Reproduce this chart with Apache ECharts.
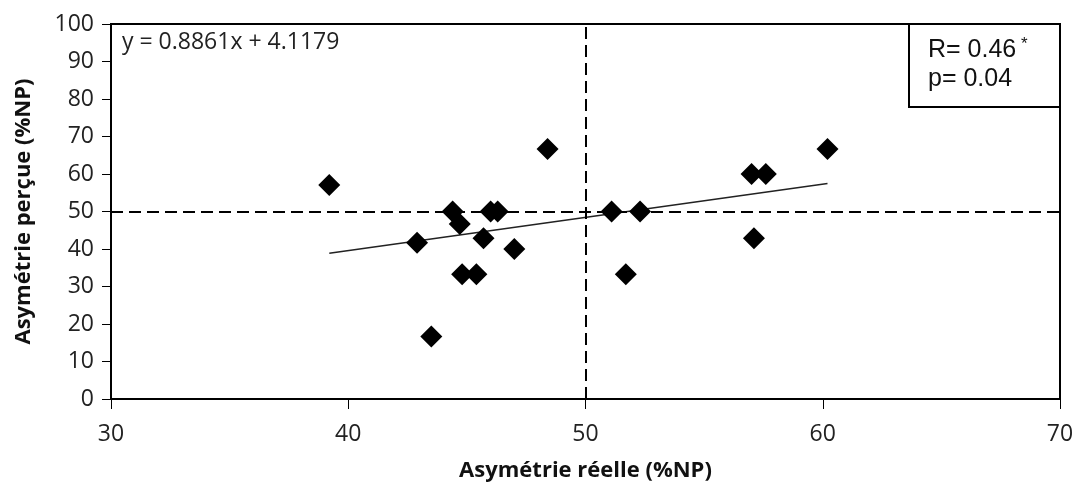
<!DOCTYPE html>
<html>
<head>
<meta charset="utf-8">
<style>
  html, body { margin: 0; padding: 0; background: #fff; }
  #chart { width: 1077px; height: 487px; }
</style>
<script src="https://cdn.jsdelivr.net/npm/echarts@6/dist/echarts.min.js"></script>
</head>
<body>
<div id="chart"></div>
<script>
const X_REAL = [39.2, 42.9, 43.5, 44.4, 44.7, 44.8, 45.4, 45.7, 46.0, 46.3, 47.0, 48.4, 51.1, 51.7, 52.3, 57.0, 57.1, 57.6, 60.2];
const Y_PERCU = [57.1, 41.7, 16.7, 50.0, 46.7, 33.3, 33.3, 42.9, 50.0, 50.0, 40.0, 66.7, 50.0, 33.3, 50.0, 60.0, 42.9, 60.0, 66.7];
const SLOPE = 0.8861;
const INTERCEPT = 4.1179;
const X_TICKS = [30, 40, 50, 60, 70];
const Y_TICKS = [0, 10, 20, 30, 40, 50, 60, 70, 80, 90, 100];
const REF_X = 50;
const REF_Y = 50;

const FONT = "'Open Sans', 'Noto Sans', sans-serif";
const BOX_FONT = "'Liberation Sans', Arial, sans-serif";

const points = X_REAL.map((x, i) => [x, Y_PERCU[i]]);
const xMin = Math.min(...X_REAL);
const xMax = Math.max(...X_REAL);
const trend = [xMin, xMax].map((x) => [x, SLOPE * x + INTERCEPT]);

const chart = echarts.init(document.getElementById("chart"));

const axisLine = { show: true, lineStyle: { color: "#000", width: 2 } };

chart.setOption({
  animation: false,
  grid: { left: 111, right: 17, top: 24, bottom: 87, show: true, borderColor: "#000", borderWidth: 2 },
  xAxis: {
    type: "value",
    min: X_TICKS[0],
    max: X_TICKS[X_TICKS.length - 1],
    interval: 10,
    name: "Asymétrie réelle (%NP)",
    nameLocation: "middle",
    nameGap: 61,
    nameTextStyle: { fontFamily: FONT, fontSize: 22, fontWeight: "bold", color: "#111" },
    axisLine,
    axisTick: { show: true, length: 10, lineStyle: { color: "#000", width: 1 } },
    axisLabel: { fontFamily: FONT, fontSize: 23, color: "#222", margin: 24 },
    splitLine: { show: false }
  },
  yAxis: {
    type: "value",
    min: Y_TICKS[0],
    max: Y_TICKS[Y_TICKS.length - 1],
    interval: 10,
    name: "Asymétrie perçue (%NP)",
    nameLocation: "middle",
    nameGap: 76,
    nameTextStyle: { fontFamily: FONT, fontSize: 22, fontWeight: "bold", color: "#111" },
    axisLine,
    axisTick: { show: true, length: 9, lineStyle: { color: "#000", width: 1 } },
    axisLabel: { fontFamily: FONT, fontSize: 23, color: "#222", margin: 17 },
    splitLine: { show: false }
  },
  series: [
    {
      type: "line",
      data: trend,
      showSymbol: false,
      symbol: "none",
      silent: true,
      lineStyle: { color: "#222", width: 1.5 },
      z: 3,
      markLine: {
        silent: true,
        symbol: "none",
        label: { show: false },
        lineStyle: { color: "#000", width: 2, type: [12, 6] },
        data: [{ xAxis: REF_X }, { yAxis: REF_Y }]
      }
    },
    {
      type: "scatter",
      data: points,
      symbol: "diamond",
      symbolSize: 22,
      itemStyle: { color: "#000", opacity: 1 },
      z: 4
    }
  ],
  graphic: [
    {
      type: "text",
      left: 122,
      top: 31,
      style: { text: "y = 0.8861x + 4.1179", font: `23px ${FONT}`, fill: "#222" }
    },
    {
      type: "rect",
      shape: { x: 909, y: 24, width: 151, height: 83 },
      style: { fill: "#fff", stroke: "#000", lineWidth: 2 },
      z: 10
    },
    {
      type: "text",
      left: 928,
      top: 38,
      z: 11,
      style: { text: "R= 0.46", font: `25px ${BOX_FONT}`, fill: "#111" }
    },
    {
      type: "text",
      left: 1021,
      top: 36,
      z: 11,
      style: { text: "*", font: `17px ${BOX_FONT}`, fill: "#111" }
    },
    {
      type: "text",
      left: 928,
      top: 67,
      z: 11,
      style: { text: "p= 0.04", font: `25px ${BOX_FONT}`, fill: "#111" }
    }
  ]
});
</script>
</body>
</html>
